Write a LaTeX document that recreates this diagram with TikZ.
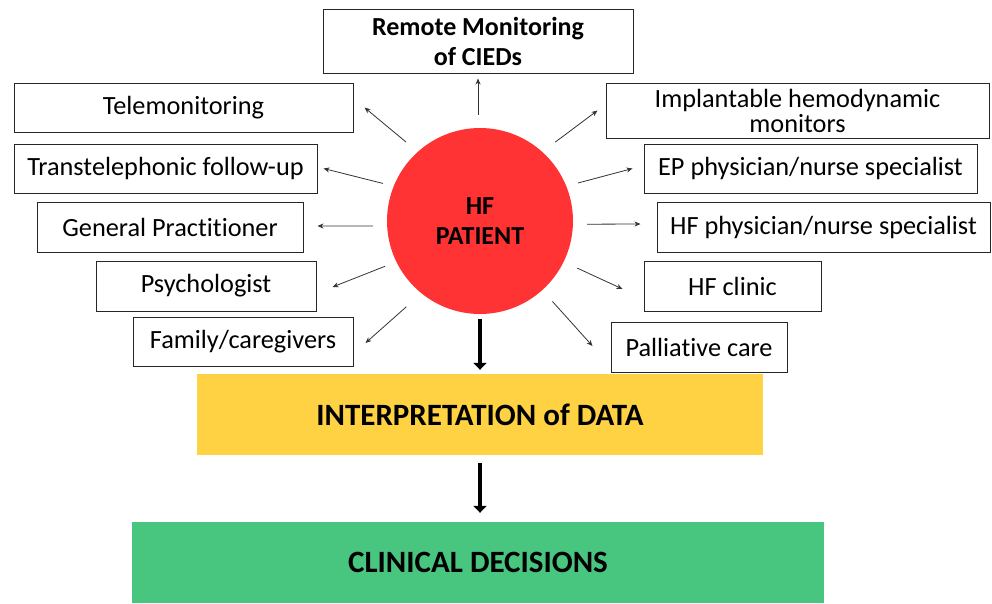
\documentclass[tikz,border=0pt]{standalone}
\usepackage{fontspec}
\setmainfont{Carlito}[Ligatures=NoCommon]
\usetikzlibrary{arrows.meta}
\definecolor{hfred}{HTML}{FF3333}
\definecolor{datayellow}{HTML}{FFD244}
\definecolor{decgreen}{HTML}{48C57F}
\begin{document}
\begin{tikzpicture}[x=1pt,y=-1pt,
    box/.style={rectangle,draw=black!85,line width=1pt,inner sep=0pt,font=\fontsize{26.3}{25}\selectfont,align=center},
    arr/.style={-{Stealth[length=6pt,width=5pt]},line width=0.8pt,black!80},
    bigarr/.style={-{Triangle[length=7pt,width=13pt]},line width=4pt}]
  \useasboundingbox (0,0) rectangle (992,603);
  % centre
  \node[circle,fill=hfred,minimum size=186,inner sep=0pt,font=\bfseries\fontsize{26}{30}\selectfont,align=center] (P) at (480,221) {HF\\PATIENT};
  % left column
  \node[box,minimum width=310,minimum height=64,font=\bfseries\fontsize{26}{30}\selectfont] (rm) at (478,41) {Remote Monitoring\\of CIEDs};
  \node[box,minimum width=339,minimum height=49] (tele) at (183.5,107.5) {Telemonitoring};
  \node[box,minimum width=303,minimum height=49] (trans) at (165.5,168.5) {Transtelephonic follow-up};
  \node[box,minimum width=266,minimum height=50] (gp) at (170,227) {General Practitioner};
  \node[box,minimum width=220,minimum height=50] (psych) at (206,286) {Psychologist};
  \node[box,minimum width=220,minimum height=49] (fam) at (243,341.5) {Family/caregivers};
  % right column
  \node[box,minimum width=383,minimum height=55] (impl) at (797.5,110.5) {Implantable hemodynamic\\monitors};
  \node[box,minimum width=333,minimum height=49] (ep) at (810.5,168.5) {EP physician/nurse specialist};
  \node[box,minimum width=333,minimum height=50] (hfp) at (823.5,227) {HF physician/nurse specialist};
  \node[box,minimum width=177,minimum height=50] (clinic) at (732.5,286) {HF clinic};
  \node[box,minimum width=176,minimum height=50] (pall) at (699,347) {Palliative care};
  % data and decisions
  \node[rectangle,fill=datayellow,minimum width=566,minimum height=81,inner sep=0pt,font=\bfseries\fontsize{31}{34}\selectfont] (interp) at (480,414.5) {INTERPRETATION of DATA};
  \node[rectangle,fill=decgreen,minimum width=692,minimum height=81,inner sep=0pt,font=\bfseries\fontsize{31}{34}\selectfont] (clin) at (478,562.5) {CLINICAL DECISIONS};
  % arrows
  \draw[arr,shorten <=13pt] (P.north-|rm.south) -- ([yshift=-5pt]rm.south);
  \draw[arr,shorten <=15pt] (P.132) -- ([xshift=11pt]tele.east);
  \draw[arr,shorten <=11pt] (P.158) -- ([xshift=6pt]trans.east);
  \draw[arr,shorten <=14pt] (P.183) -- ([xshift=14pt,yshift=1pt]gp.east);
  \draw[arr,shorten <=12pt] (P.206) -- ([xshift=16pt,yshift=-1pt]psych.east);
  \draw[arr,shorten <=20pt] (P.231) -- ([xshift=12pt,yshift=-1.5pt]fam.east);
  \draw[arr,shorten <=16pt] (P.48) -- ([xshift=-8pt]impl.west);
  \draw[arr,shorten <=12pt] (P.22) -- ([xshift=-11pt]ep.west);
  \draw[arr,shorten <=14pt] (P.-2) -- ([xshift=-16pt,yshift=3pt]hfp.west);
  \draw[arr,shorten <=15pt] (P.-26) -- ([xshift=-21pt,yshift=-3pt]clinic.west);
  \draw[arr,shorten <=15pt] (P.-48) -- ([xshift=-18pt,yshift=1pt]pall.west);
  \draw[bigarr,shorten <=5pt,shorten >=4pt] (P) -- (interp);
  \draw[bigarr,shorten <=8pt,shorten >=9pt] (interp) -- (interp|-clin.north);
\end{tikzpicture}
\end{document}
